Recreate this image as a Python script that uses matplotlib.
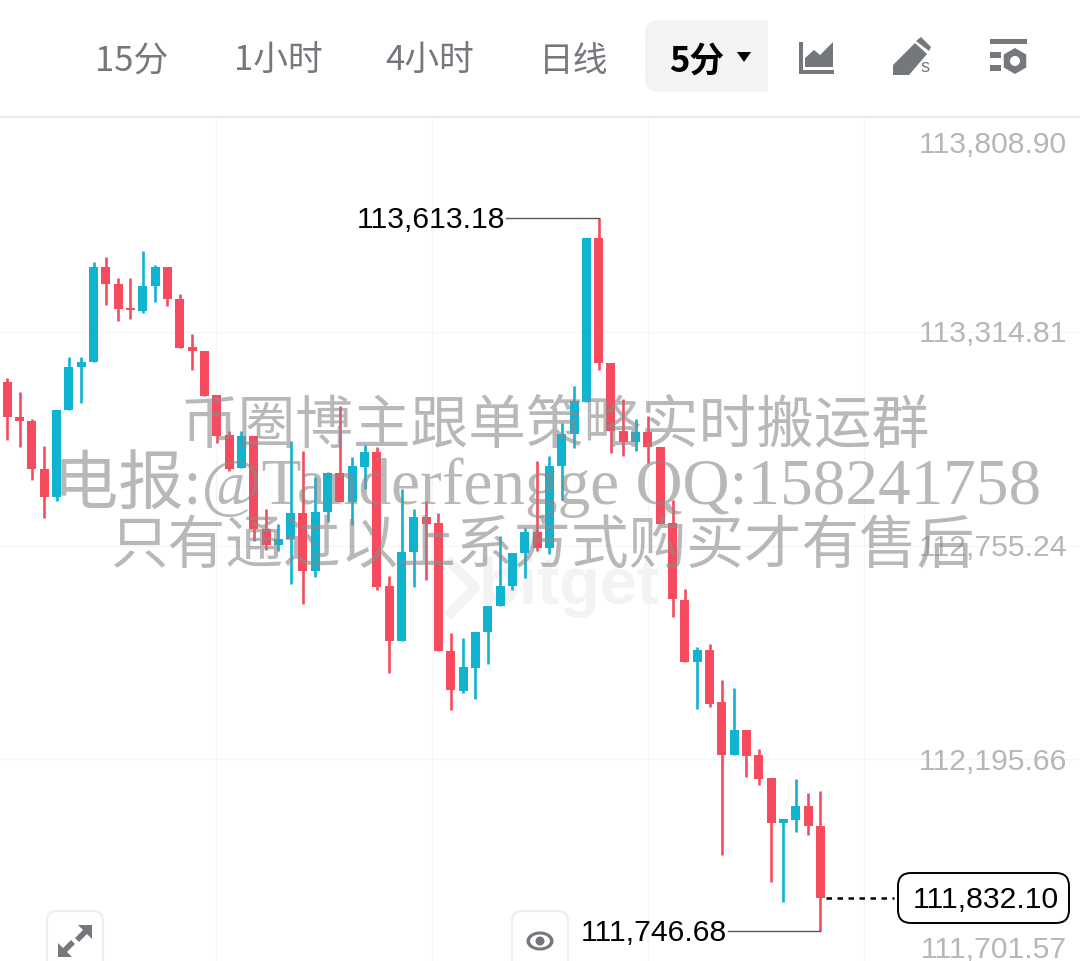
import matplotlib
matplotlib.use('Agg')
import matplotlib.pyplot as plt
from matplotlib.patches import Polygon, Rectangle, FancyBboxPatch, Circle, RegularPolygon, Ellipse

plt.rcParams['font.family'] = ['Liberation Sans', 'Noto Sans CJK SC']

# Candle values
opens = [113185, 113093, 113082, 112955, 112882, 113110, 113222, 113235, 113485, 113441,
         113377, 113371, 113434, 113484, 113402, 113275, 113266, 113150, 113045, 112958,
         113043, 112800, 112757, 112774, 112840, 112690, 112844, 112945, 112870, 112962,
         113000, 112650, 112506, 112739, 112830, 112815, 112480, 112376, 112436, 112530,
         112597, 112650, 112735, 112792, 112748, 112964, 113047, 113132, 113562, 113233,
         113056, 113028, 113053, 113014, 112814, 112614, 112452, 112482, 112345, 112208,
         112272, 112207, 112147, 112030, 112037, 112074, 112022]
highs = [113195, 113157, 113086, 113017, 113111, 113249, 113249, 113499, 113510, 113457,
         113455, 113527, 113490, 113485, 113413, 113309, 113266, 113151, 113055, 113055,
         113043, 112851, 112812, 113029, 113004, 112934, 112949, 113121, 112987, 113019,
         113013, 112677, 112903, 112851, 112873, 112842, 112526, 112513, 112530, 112598,
         112781, 112735, 112801, 112978, 112991, 113076, 113173, 113562, 113613.18, 113233,
         113140, 113087, 113095, 113014, 112876, 112641, 112491, 112499, 112403, 112383,
         112272, 112224, 112147, 112039, 112145, 112109, 112112]
lows = [113032, 113013, 112927, 112827, 112873, 113110, 113130, 113235, 113385, 113343,
        113348, 113364, 113394, 113384, 113273, 113214, 113148, 113023, 112952, 112958,
        112768, 112744, 112742, 112654, 112603, 112674, 112818, 112870, 112809, 112903,
        112639, 112423, 112506, 112648, 112665, 112480, 112325, 112370, 112354, 112445,
        112597, 112639, 112670, 112742, 112733, 112875, 113012, 113132, 113215, 112999,
        112989, 113002, 112972, 112812, 112568, 112452, 112327, 112332, 111945, 112208,
        112150, 112128, 111874, 111823, 112007, 111999, 111746.68]
closes = [113093, 113082, 112956, 112883, 113111, 113223, 113236, 113485, 113440, 113375,
          113372, 113434, 113485, 113401, 113273, 113265, 113148, 113043, 112957, 113043,
          112798, 112757, 112772, 112840, 112690, 112844, 112945, 112870, 112964, 113000,
          112648, 112506, 112739, 112831, 112813, 112480, 112377, 112437, 112530, 112598,
          112650, 112735, 112792, 112748, 112965, 113047, 113134, 113562, 113233, 113056,
          113028, 113053, 113014, 112812, 112615, 112452, 112482, 112342, 112208, 112272,
          112205, 112145, 112030, 112039, 112075, 112022, 111832.10]

price_ticks = [113808.90, 113314.81, 112755.24, 112195.66, 111701.57]
price_labels = ['113,808.90', '113,314.81', '112,755.24', '112,195.66', '111,701.57']
grid_prices = [113314.81, 112755.24, 112195.66]
high_price = 113613.18
high_label = '113,613.18'
low_price = 111746.68
low_label = '111,746.68'
last_price = 111832.10
last_label = '111,832.10'

intervals = ['15分', '1小时', '4小时', '日线']
active_interval = '5分'
watermark = ['币圈博主跟单策略实时搬运群', '电报:@Tanderfengge QQ:158241758', '只有通过以上系方式购买才有售后']

RED = '#f64b5f'
CYAN = '#10b3d0'
GREY = '#74787d'
AXIS_GREY = '#b4b6ba'
GRID = '#f5f5f5'

fig = plt.figure(figsize=(10.8, 9.61), dpi=100, facecolor='white')

# price axes, full figure, one unit on x is one candle
ax = fig.add_axes([0, 0, 1, 1])
ax.set_xlim(-0.5925, 87.07)
ax.set_ylim(111668.0, 114183.9)
ax.axis('off')

# same figure in pixels, for the app chrome around the chart
ui = fig.add_axes([0, 0, 1, 1], zorder=3)
ui.set_xlim(0, 1080)
ui.set_ylim(961, 0)
ui.axis('off')
ui.patch.set_alpha(0)

# grid
for p in grid_prices:
    ax.axhline(p, color=GRID, lw=1, zorder=0)
for x in [16.94, 34.47, 52.0, 69.54]:
    ax.axvline(x, ymax=0.877, color=GRID, lw=1, zorder=0)
ui.plot([0, 1080], [117, 117], color='#e9e9e9', lw=1.5)

# faint logo under the candles
ax.text(45.6, 112647, 'bitget', color='#f3f3f3', fontsize=48, fontweight='bold',
        ha='center', va='center', zorder=0.5)
ax.plot([36.0, 38.0, 36.0], [112710, 112645, 112580], color='#f3f3f3', lw=7, zorder=0.5)

# candles
for i in range(len(opens)):
    col = CYAN if closes[i] >= opens[i] else RED
    ax.vlines(i, lows[i], highs[i], color=col, lw=1.9, zorder=2)
    bottom = min(opens[i], closes[i])
    ax.bar(i, abs(closes[i] - opens[i]), bottom=bottom, width=0.73, color=col, zorder=2)

# axis labels
for p, lab in zip(price_ticks, price_labels):
    ax.annotate(lab, (86.0, p), xytext=(0, -1.5), textcoords='offset points', color=AXIS_GREY,
                fontsize=21.7, ha='right', va='center', zorder=1)

# high / low markers
ihigh = highs.index(high_price)
ilow = lows.index(low_price)
ax.plot([ihigh - 7.5, ihigh], [high_price, high_price], color='#555555', lw=1, zorder=2)
ax.annotate(high_label, (ihigh - 7.55, high_price), xytext=(0, -1.5), textcoords='offset points', color='black',
            fontsize=21.7, ha='right', va='center', zorder=2)
ax.plot([ilow - 7.5, ilow], [low_price, low_price], color='#555555', lw=1, zorder=2)
ax.annotate(low_label, (ilow - 7.55, low_price), xytext=(0, -1.5), textcoords='offset points', color='black',
            fontsize=21.7, ha='right', va='center', zorder=2)

# last price
ilast = len(closes) - 1
ax.plot([ilast + 0.45, ilast + 6], [last_price, last_price], color='black', lw=1.8, ls=(0, (2.2, 2.2)), zorder=2)
ui.add_patch(FancyBboxPatch((910, 885), 147, 26, boxstyle='round,pad=12,rounding_size=13', fc='white', ec='black', lw=1.4))
ui.text(985.5, 900, last_label, color='black', fontsize=21.7, ha='center', va='center')

# watermark over everything
wm_x = [555, 547, 542]
wm_y = [428, 484, 548]
wm_size = [41.5, 47, 41.5]
for s, x, y, fs in zip(watermark, wm_x, wm_y, wm_size):
    ui.text(x, y, s, color='#8a8a8a', alpha=0.6, fontsize=fs, ha='center', va='center',
            family=['Liberation Serif', 'Noto Sans CJK SC'], zorder=6)

# toolbar
tab_x = [132, 278, 430, 574]
for s, x in zip(intervals, tab_x):
    ui.text(x, 61, s, color=GREY, fontsize=25, ha='center', va='center', family=['Noto Sans CJK SC'])
ui.add_patch(FancyBboxPatch((655, 30), 123, 52, boxstyle='round,pad=10,rounding_size=14', fc='#f1f3f5', ec='none', zorder=1))
ui.add_patch(Rectangle((768, 10), 30, 95, fc='white', ec='none', zorder=1.5))
ui.text(697, 61, active_interval, color='black', fontsize=25, ha='center', va='center', fontweight='bold',
        family=['Noto Sans CJK SC'], zorder=2)
ui.add_patch(Polygon([(737, 52), (751, 52), (744, 62)], fc='black', ec='none', zorder=2))

# area chart icon
ui.add_patch(Rectangle((799, 42), 3.5, 32, fc=GREY, ec='none'))
ui.add_patch(Rectangle((799, 70), 35, 4, fc=GREY, ec='none'))
ui.add_patch(Polygon([(805, 67), (805, 58), (814, 50), (820, 55), (833, 42), (833, 67)], fc=GREY, ec='none'))
# pen icon
ui.add_patch(Polygon([(921, 37), (931, 47), (929, 51), (916, 41)], fc=GREY, ec='none'))
ui.add_patch(Polygon([(915, 43), (927, 54), (909, 75), (893, 75), (893, 65)], fc=GREY, ec='none'))
ui.text(925, 68, 's', color=GREY, fontsize=13, ha='center', va='center')
# settings icon
ui.add_patch(Rectangle((990, 39), 37, 5, fc=GREY, ec='none'))
ui.add_patch(Rectangle((990, 52), 11, 6, fc=GREY, ec='none'))
ui.add_patch(Rectangle((990, 65), 11, 6, fc=GREY, ec='none'))
ui.add_patch(RegularPolygon((1015, 61), 6, radius=13, fc=GREY, ec='none'))
ui.add_patch(Circle((1015, 61), 5, fc='white', ec='none'))

# bottom buttons
for x in [47, 512]:
    ui.add_patch(FancyBboxPatch((x + 6, 917), 44, 60, boxstyle='round,pad=6,rounding_size=10', fc='white', ec='#ededed', lw=1.5))
ui.add_patch(Polygon([(92, 925), (92, 939), (87, 934), (79, 942), (75, 938), (83, 930), (78, 925)], fc=GREY, ec='none'))
ui.add_patch(Polygon([(58, 957), (58, 943), (63, 948), (71, 940), (75, 944), (67, 952), (72, 957)], fc=GREY, ec='none'))
ui.add_patch(Ellipse((540, 941), 27, 19, fc=GREY, ec='none'))
ui.add_patch(Ellipse((540, 941), 20, 13, fc='white', ec='none'))
ui.add_patch(Circle((540, 941), 4.5, fc=GREY, ec='none'))

fig.savefig('out.png', dpi=100, facecolor='white')
